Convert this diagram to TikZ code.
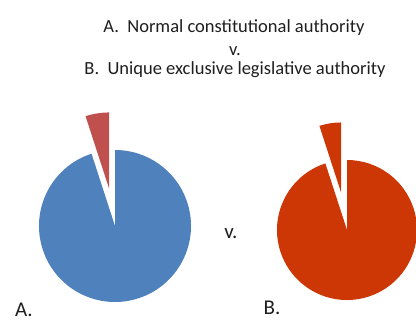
\documentclass[tikz,border=0pt]{standalone}
\usepackage{fontspec}
\setmainfont{Carlito}
\usetikzlibrary{calc}
\definecolor{pieblue}{RGB}{79,129,189}
\definecolor{piered}{RGB}{192,80,77}
\definecolor{pieorange}{RGB}{204,55,5}
\definecolor{txt}{RGB}{30,30,30}
\begin{document}
\begin{tikzpicture}[x=1pt,y=1pt,
  title/.style={text=txt,font=\fontsize{18.5}{22}\selectfont,inner sep=0pt,anchor=base},
  lbl/.style={text=txt,font=\fontsize{21}{25}\selectfont,inner sep=0pt,anchor=base}]
\useasboundingbox (0,0) rectangle (416,321);
% Titles
\node[title] (t1) at (234,288) {A.\ \ Normal constitutional authority};
\node[title] (t2) at (235,265) {v.};
\node[title] (t3) at (235,246) {B.\ \ Unique exclusive legislative authority};
% Pie A
\coordinate (ca) at (115,95);
\fill[pieblue] (ca) -- ++(108:76) arc (108:450:76) -- cycle;
\coordinate (wa) at ($(ca)+(99:38)$);
\fill[piered] (wa) -- ++(90:76) arc (90:108:76) -- cycle;
% Pie B
\coordinate (cb) at (347,91);
\fill[pieorange] (cb) -- ++(108:70) arc (108:450:70) -- cycle;
\coordinate (wb) at ($(cb)+(99:38)$);
\fill[pieorange] (wb) -- ++(90:70) arc (90:108:70) -- cycle;
% Labels
\node[lbl] (la) at (24,4) {A.};
\node[lbl] (lv) at (231,82) {v.};
\node[lbl] (lb) at (272,6) {B.};
\end{tikzpicture}
\end{document}
